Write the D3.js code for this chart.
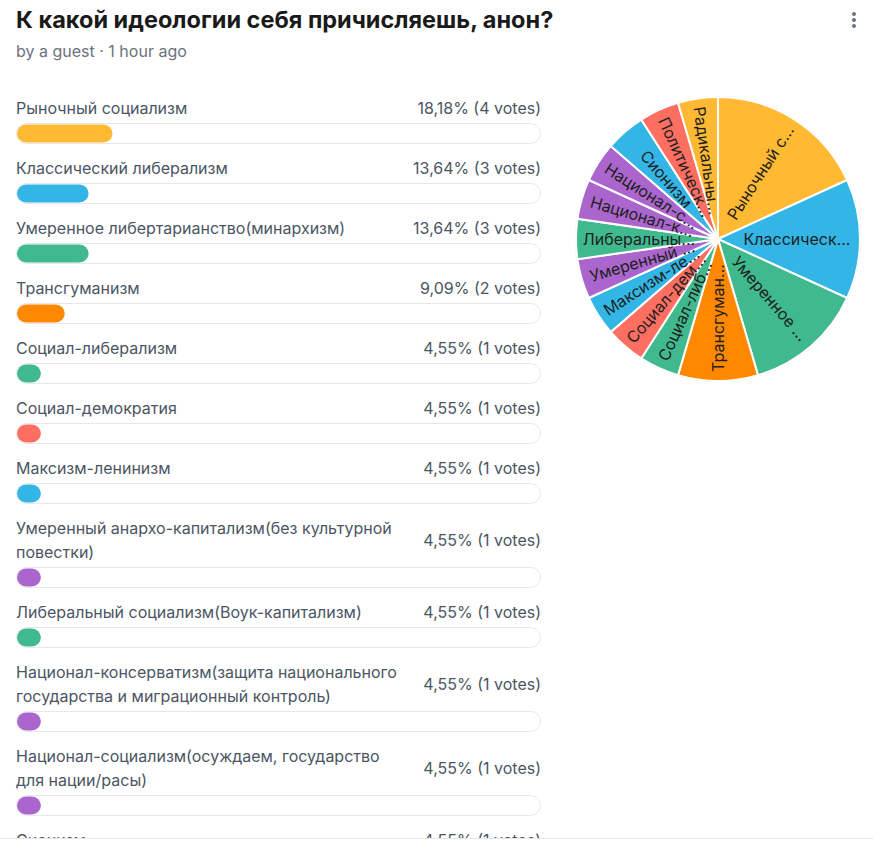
<!DOCTYPE html>
<html>
<head>
<meta charset="utf-8">
<script src="https://cdn.jsdelivr.net/npm/d3@7"></script>
<style>
  html, body { margin: 0; padding: 0; background: #fff; overflow: hidden; }
  svg { display: block; font-family: Inter, "Noto Sans", sans-serif; }
</style>
</head>
<body>
<div id="chart-container"></div>
<script>
// poll data
const title = "К какой идеологии себя причисляешь, анон?";
const subtitle = "by a guest · 1 hour ago";

const options = [
  "Рыночный социализм",
  "Классический либерализм",
  "Умеренное либертарианство(минархизм)",
  "Трансгуманизм",
  "Социал-либерализм",
  "Социал-демократия",
  "Максизм-ленинизм",
  "Умеренный анархо-капитализм(без культурной повестки)",
  "Либеральный социализм(Воук-капитализм)",
  "Национал-консерватизм(защита национального государства и миграционный контроль)",
  "Национал-социализм(осуждаем, государство для нации/расы)",
  "Сионизм",
  "Политический центризм",
  "Радикальный центризм"
];
const votes = [4, 3, 3, 2, 1, 1, 1, 1, 1, 1, 1, 1, 1, 1];
const colors = ["#ffb933", "#33b5e5", "#3fb98d", "#ff8800", "#3fb98d", "#ff6f61", "#33b5e5",
                "#aa66cc", "#3fb98d", "#aa66cc", "#aa66cc", "#33b5e5", "#ff6f61", "#ffb933"];

const W = 873, H = 841;
const total = d3.sum(votes);
const data = options.map((label, i) => ({ label, votes: votes[i], color: colors[i] }));

const svg = d3.select("#chart-container")
  .append("svg")
  .attr("width", W)
  .attr("height", H);

//Header
svg.append("text")
  .attr("x", 16).attr("y", 28)
  .style("font-size", "23.5px")
  .style("font-weight", 700)
  .style("fill", "#1a1a1a")
  .text(title);

svg.append("text")
  .attr("x", 16).attr("y", 57)
  .style("font-size", "16px")
  .style("fill", "#6b7280")
  .text(subtitle);

// menu dots
svg.append("g")
  .selectAll("circle")
  .data([14, 20, 26])
  .join("circle")
  .attr("cx", 854).attr("cy", d => d).attr("r", 2)
  .attr("fill", "#6b7280");

//Option list with progress bars
const listLeft = 16, listRight = 541;
const x = d3.scaleLinear().domain([0, 1]).range([0, listRight - listLeft]);
const fmt = d => (d * 100).toFixed(2).replace(".", ",") + "%";

const list = svg.append("g");
let y = 108;

// word wrap helper
function wrapLines(str, maxW) {
  const probe = list.append("text").style("font-size", "16px");
  const words = str.split(" ");
  const lines = [];
  let cur = "";
  words.forEach(w => {
    const test = cur ? cur + " " + w : w;
    probe.text(test);
    if (probe.node().getComputedTextLength() > maxW && cur) {
      lines.push(cur);
      cur = w;
    } else cur = test;
  });
  lines.push(cur);
  probe.remove();
  return lines;
}

data.forEach(d => {
  const lines = wrapLines(d.label, 388);
  const row = list.append("g");
  lines.forEach((ln, k) => {
    row.append("text")
      .attr("x", listLeft).attr("y", y + k * 24)
      .attr("dy", "0.36em")
      .style("font-size", "16px")
      .style("fill", "#4b5563")
      .text(ln);
  });
  row.append("text")
    .attr("x", listRight).attr("y", y + (lines.length - 1) * 12)
    .attr("dy", "0.36em")
    .attr("text-anchor", "end")
    .style("font-size", "16px")
    .style("fill", "#4b5563")
    .text(`${fmt(d.votes / total)} (${d.votes} votes)`);

  const top = y + (lines.length - 1) * 24 + 15;
  row.append("rect")
    .attr("x", listLeft + 0.5).attr("y", top + 0.5)
    .attr("width", listRight - listLeft - 1).attr("height", 20)
    .attr("rx", 10)
    .attr("fill", "#fff")
    .attr("stroke", "#e5e7eb");
  row.append("rect")
    .attr("x", listLeft + 1).attr("y", top + 1.5)
    .attr("width", x(d.votes / total))
    .attr("height", 18)
    .attr("rx", 9)
    .attr("fill", d.color);
  y = top + 45;
});

// footer edge
svg.append("rect")
  .attr("x", 0).attr("y", 839).attr("width", W).attr("height", 2)
  .attr("fill", "#fff");
svg.append("line")
  .attr("x1", 0).attr("x2", W).attr("y1", 838.5).attr("y2", 838.5)
  .attr("stroke", "#e5e7eb");

//Pie chart
const cx = 718, cy = 239, r = 142;
const pie = d3.pie().sort(null).value(d => d.votes);
const arc = d3.arc().innerRadius(0).outerRadius(r);
const labelArc = d3.arc().innerRadius(79).outerRadius(79);

const pieG = svg.append("g").attr("transform", `translate(${cx},${cy})`);

pieG.append("circle")
  .attr("r", r + 0.5)
  .attr("fill", "none")
  .attr("stroke", "#e0e0e0");

const arcs = pie(data);

pieG.selectAll("path")
  .data(arcs)
  .join("path")
  .attr("d", arc)
  .attr("fill", d => d.data.color)
  .attr("stroke", "#fff")
  .attr("stroke-width", 2);

const short = s => s.length > 10 ? s.slice(0, 10) + "..." : s;

pieG.selectAll("text.slice")
  .data(arcs)
  .join("text")
  .attr("class", "slice")
  .attr("transform", d => {
    const [lx, ly] = labelArc.centroid(d);
    const deg = (d.startAngle + d.endAngle) / 2 * 180 / Math.PI;
    const rot = deg < 180 ? deg - 90 : deg + 90;
    return `translate(${lx},${ly}) rotate(${rot})`;
  })
  .attr("text-anchor", "middle")
  .attr("dy", "0.35em")
  .style("font-size", "16px")
  .style("fill", "#1f1f1f")
  .text(d => short(d.data.label));
</script>
</body>
</html>
